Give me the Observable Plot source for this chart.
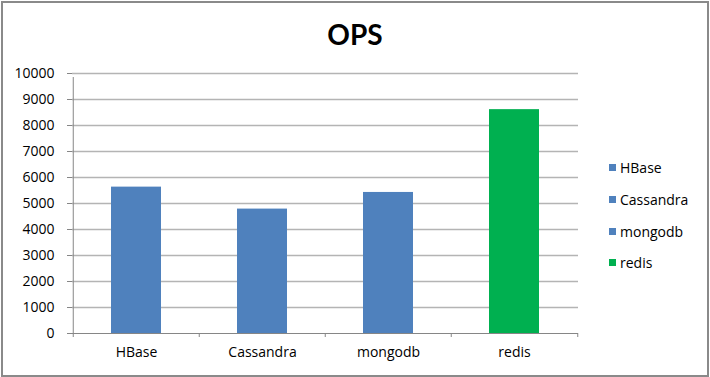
<!DOCTYPE html>
<html>
<head>
<meta charset="utf-8">
<script src="https://cdn.jsdelivr.net/npm/d3@7"></script>
<script src="https://cdn.jsdelivr.net/npm/@observablehq/plot@0.6"></script>
<style>
  html, body { margin: 0; padding: 0; background: #fff; }
  #chart { position: relative; width: 710px; height: 377px; overflow: hidden; font-family: "Open Sans", Lato, sans-serif; }
  #border { position: absolute; left: 1px; top: 1px; width: 704px; height: 372px; border: 2px solid #8a8a8a; pointer-events: none; }
  #title { position: absolute; left: 0; width: 710px; top: 17px; text-align: center; font-size: 28px; font-weight: bold; color: #000; font-family: Lato, "Open Sans", sans-serif; }
  #legend { position: absolute; left: 609px; top: 152px; font-size: 14px; color: #000; }
  .item { display: flex; align-items: center; height: 31.7px; }
  .sw { width: 7px; height: 7px; margin-right: 4px; }
  svg { position: absolute; left: 0; top: 0; }
</style>
</head>
<body>
<div id="chart">
  <div id="title"></div>
  <div id="legend"></div>
  <div id="border"></div>
</div>
<script>
const title = "OPS";
const categories = ["HBase", "Cassandra", "mongodb", "redis"];
const values = [5630, 4785, 5425, 8610];
const colors = ["#4F81BD", "#4F81BD", "#4F81BD", "#00B050"];
const yTicks = [0, 1000, 2000, 3000, 4000, 5000, 6000, 7000, 8000, 9000, 10000];

const data = categories.map((c, i) => ({category: c, value: values[i], color: colors[i]}));

const W = 710, H = 377, ML = 72, MR = 132, MT = 73, MB = 44;
const step = (W - ML - MR) / categories.length;
const axisColor = "#868686";

const plot = Plot.plot({
  width: W,
  height: H,
  marginLeft: ML,
  marginRight: MR,
  marginTop: MT,
  marginBottom: MB,
  style: {fontFamily: "'Open Sans', Lato, sans-serif", fontSize: "14px", color: "#000", background: "transparent"},
  x: {domain: categories, paddingInner: 0.6, paddingOuter: 0.3, label: null},
  y: {domain: [0, 10000], label: null},
  marks: [
    Plot.gridY(yTicks.filter(d => d > 0), {stroke: "#b4b4b4", strokeOpacity: 1, strokeWidth: 1.3}),
    Plot.barY(data, {x: "category", y: "value", fill: "color"}),
    Plot.ruleY([0], {stroke: axisColor, strokeWidth: 1}),
    Plot.ruleX([categories[0]], {x: d => d, dx: -step / 2, y1: 0, y2: 10000, stroke: axisColor, insetBottom: -4}),
    Plot.ruleX(categories, {x: d => d, dx: -step / 2, y1: 0, y2: 0, stroke: axisColor, insetBottom: -4}),
    Plot.ruleX([categories[categories.length - 1]], {x: d => d, dx: step / 2, y1: 0, y2: 0, stroke: axisColor, insetBottom: -4}),
    Plot.axisY({ticks: yTicks, tickSize: 5, tickPadding: 13, tickFormat: d => String(d), stroke: axisColor, fill: "#000", fontSize: 14}),
    Plot.axisX({tickSize: 0, tickPadding: 14, fill: "#000", fontSize: 14})
  ]
});

document.getElementById("chart").insertBefore(plot, document.getElementById("title"));
document.getElementById("title").textContent = title;

const legend = document.getElementById("legend");
data.forEach(d => {
  const item = document.createElement("div");
  item.className = "item";
  const sw = document.createElement("div");
  sw.className = "sw";
  sw.style.background = d.color;
  const label = document.createElement("span");
  label.textContent = d.category;
  item.appendChild(sw);
  item.appendChild(label);
  legend.appendChild(item);
});
</script>
</body>
</html>
